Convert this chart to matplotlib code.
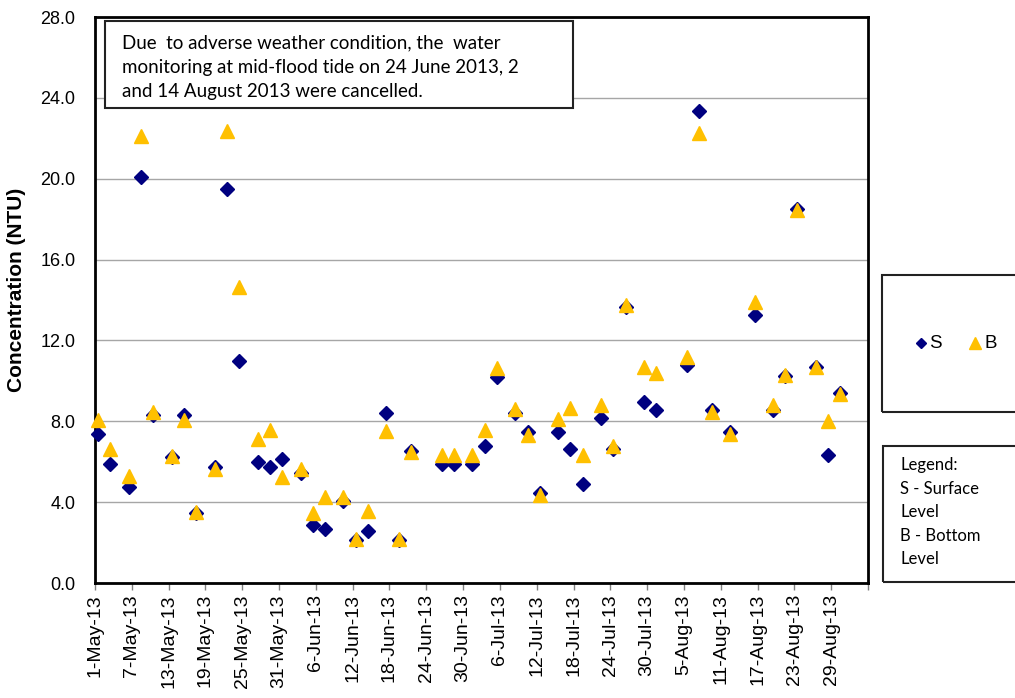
import matplotlib
matplotlib.use("Agg")
import matplotlib.pyplot as plt
import matplotlib.dates as mdates
from matplotlib.patches import Rectangle
from matplotlib.lines import Line2D
import datetime as dt

# ---------------- data ----------------
sample_dates = ["2013-05-01", "2013-05-03", "2013-05-06", "2013-05-08", "2013-05-10",
                "2013-05-13", "2013-05-15", "2013-05-17", "2013-05-20", "2013-05-22",
                "2013-05-24", "2013-05-27", "2013-05-29", "2013-05-31", "2013-06-03",
                "2013-06-05", "2013-06-07", "2013-06-10", "2013-06-12", "2013-06-14",
                "2013-06-17", "2013-06-19", "2013-06-21", "2013-06-26", "2013-06-28",
                "2013-07-01", "2013-07-03", "2013-07-05", "2013-07-08", "2013-07-10",
                "2013-07-12", "2013-07-15", "2013-07-17", "2013-07-19", "2013-07-22",
                "2013-07-24", "2013-07-26", "2013-07-29", "2013-07-31", "2013-08-05",
                "2013-08-07", "2013-08-09", "2013-08-12", "2013-08-16", "2013-08-19",
                "2013-08-21", "2013-08-23", "2013-08-26", "2013-08-28", "2013-08-30"]

surface = [7.35, 5.87, 4.77, 20.08, 8.32, 6.25, 8.30, 3.48, 5.76, 19.49,
           10.96, 5.97, 5.73, 6.14, 5.43, 2.87, 2.67, 4.05, 2.13, 2.57,
           8.40, 2.13, 6.53, 5.89, 5.89, 5.89, 6.78, 10.21, 8.40, 7.49,
           4.44, 7.46, 6.62, 4.91, 8.15, 6.62, 13.63, 8.93, 8.56, 10.79,
           23.33, 8.56, 7.46, 13.25, 8.56, 10.25, 18.50, 10.68, 6.35, 9.42]

bottom = [8.05, 6.63, 5.31, 22.10, 8.45, 6.30, 8.07, 3.53, 5.64, 22.38,
          14.62, 7.13, 7.59, 5.23, 5.64, 3.45, 4.27, 4.27, 2.18, 3.58,
          7.54, 2.18, 6.50, 6.34, 6.34, 6.34, 7.57, 10.63, 8.60, 7.33,
          4.36, 8.13, 8.65, 6.34, 8.83, 6.80, 13.76, 10.68, 10.38, 11.20,
          22.26, 8.45, 7.36, 13.88, 8.81, 10.30, 18.43, 10.68, 8.03, 9.34]

tick_dates = ["2013-05-01", "2013-05-07", "2013-05-13", "2013-05-19", "2013-05-25",
              "2013-05-31", "2013-06-06", "2013-06-12", "2013-06-18", "2013-06-24",
              "2013-06-30", "2013-07-06", "2013-07-12", "2013-07-18", "2013-07-24",
              "2013-07-30", "2013-08-05", "2013-08-11", "2013-08-17", "2013-08-23",
              "2013-08-29"]
tick_labels = ["1-May-13", "7-May-13", "13-May-13", "19-May-13", "25-May-13",
               "31-May-13", "6-Jun-13", "12-Jun-13", "18-Jun-13", "24-Jun-13",
               "30-Jun-13", "6-Jul-13", "12-Jul-13", "18-Jul-13", "24-Jul-13",
               "30-Jul-13", "5-Aug-13", "11-Aug-13", "17-Aug-13", "23-Aug-13",
               "29-Aug-13"]
x_start, x_end = "2013-05-01", "2013-09-04"
y_ticks = [0, 4, 8, 12, 16, 20, 24, 28]

note_text = ("Due  to adverse weather condition, the  water\n"
             "monitoring at mid-flood tide on 24 June 2013, 2\n"
             "and 14 August 2013 were cancelled.")
legend_note = "Legend:\nS - Surface\nLevel\nB - Bottom\nLevel"

# ---------------- figure ----------------
plt.rcParams['font.family'] = ['Liberation Sans', 'DejaVu Sans']
W, H = 1015, 698
fig = plt.figure(figsize=(W / 100, H / 100), dpi=100)
ax = fig.add_axes([95 / W, 1 - 583 / H, (868 - 95) / W, (583 - 17) / H])

to_d = lambda s: dt.datetime.strptime(s, "%Y-%m-%d")
# Excel-style date axis: each day is a bin, markers sit at the bin centre
xd = [mdates.date2num(to_d(s)) + 0.5 for s in sample_dates]

navy = "#000080"
gold = "#FFC000"
ax.plot(xd, surface, linestyle='none', marker='D', ms=7, color=navy,
        markeredgecolor=navy, zorder=3, label='S', clip_on=False)
ax.plot(xd, bottom, linestyle='none', marker='^', ms=10, color=gold,
        markeredgecolor=gold, zorder=4, label='B', clip_on=False)

ax.set_xlim(mdates.date2num(to_d(x_start)), mdates.date2num(to_d(x_end)))
ax.set_ylim(0, 28)
ax.set_yticks(y_ticks)
ax.set_yticklabels([f"{v:.1f}" for v in y_ticks], fontsize=13)
ax.set_xticks([mdates.date2num(to_d(s)) for s in tick_dates])
ax.set_xticklabels(tick_labels, rotation=90, fontsize=14)
ax.set_xticks([mdates.date2num(to_d(x_end))], minor=True)

ax.grid(axis='y', color='#a6a6a6', linewidth=1.0)
ax.set_axisbelow(True)
for sp in ax.spines.values():
    sp.set_color('black')
    sp.set_linewidth(2.0)
ax.tick_params(axis='x', which='both', direction='out', length=5, color='#808080',
               width=1, pad=3)
ax.tick_params(axis='y', length=0, pad=14)

fig.text(17 / W, 1 - 290 / H, "Concentration (NTU)", rotation=90, fontsize=15,
         fontweight='bold', ha='center', va='center')

# annotation box
fig.patches.append(Rectangle((105 / W, 1 - 108 / H), (573 - 105) / W, (108 - 21) / H,
                             transform=fig.transFigure, fill=True, facecolor='white',
                             edgecolor='#222222', linewidth=1.5, zorder=5))
fig.text(122 / W, 1 - 34 / H, note_text, fontsize=13.5, family=['Lato', 'DejaVu Sans'],
         ha='left', va='top', linespacing=1.55, zorder=6)

# legend box 1
fig.patches.append(Rectangle((882 / W, 1 - 412 / H), (1020 - 882) / W, (412 - 275) / H,
                             transform=fig.transFigure, fill=False,
                             edgecolor='#222222', linewidth=1.5))
leg_y = 1 - 343 / H
fig.add_artist(Line2D([921 / W], [leg_y], transform=fig.transFigure, marker='D', ms=5.5,
                      color=navy, linestyle='none'))
fig.text(929 / W, leg_y, "S", fontsize=13.5, ha='left', va='center')
fig.add_artist(Line2D([975 / W], [leg_y], transform=fig.transFigure, marker='^', ms=9,
                      color=gold, linestyle='none'))
fig.text(984 / W, leg_y, "B", fontsize=13.5, ha='left', va='center')

# legend box 2
fig.patches.append(Rectangle((883 / W, 1 - 582 / H), (1020 - 883) / W, (582 - 446) / H,
                             transform=fig.transFigure, fill=False,
                             edgecolor='#222222', linewidth=1.5))
fig.text(900 / W, 1 - 457 / H, legend_note, fontsize=12, family=['Lato', 'DejaVu Sans'],
         ha='left', va='top', linespacing=1.58)

fig.savefig("out.png", dpi=100)
